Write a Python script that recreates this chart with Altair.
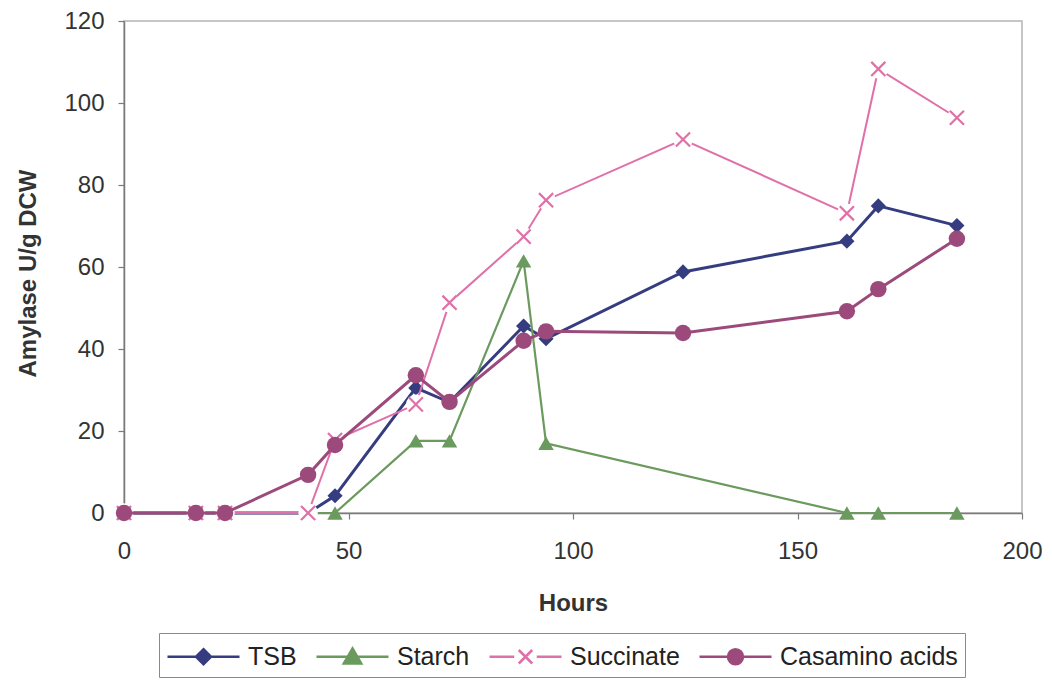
import altair as alt
import pandas as pd

# Sampling times (hours) and amylase activity (U/g DCW) for each medium
hours = [0, 16, 22.5, 41, 47, 65, 72.5, 89, 94, 124.5, 161, 168, 185.5]
tsb = [0, 0, 0, 0, 4.2, 30.5, 27.0, 45.6, 42.5, 58.8, 66.3, 74.9, 70.1]
# starch was not sampled at 124.5 h
starch = [0, 0, 0, 0, 0, 17.6, 17.6, 61.5, 17.0, None, 0, 0, 0]
succinate = [0, 0, 0, 0, 17.8, 26.5, 51.3, 67.4, 76.3, 91.1, 73.1, 108.3, 96.4]
casamino = [0, 0, 0, 9.3, 16.6, 33.6, 27.1, 42.0, 44.3, 43.9, 49.2, 54.6, 66.9]

names = ["TSB", "Starch", "Succinate", "Casamino acids"]
colors = ["#353d80", "#6b9a5e", "#e070a8", "#9c4a7c"]

x_ticks = [0, 50, 100, 150, 200]
y_ticks = [0, 20, 40, 60, 80, 100, 120]

rows = []
for name, vals in zip(names, [tsb, starch, succinate, casamino]):
    for h, v in zip(hours, vals):
        if v is not None:
            rows.append({"hours": h, "value": v, "series": name})
df = pd.DataFrame(rows)

FONT = "Liberation Sans"

x_enc = alt.X(
    "hours:Q",
    scale=alt.Scale(domain=[0, 200], nice=False),
    axis=alt.Axis(values=x_ticks, title="Hours", format="d", labelFlush=False,
                  titleY=90, titleBaseline="middle"),
)
y_enc = alt.Y(
    "value:Q",
    scale=alt.Scale(domain=[0, 120], nice=False),
    axis=alt.Axis(values=y_ticks, title="Amylase U/g DCW", format="d", labelFlush=False,
                  titleX=-96, titleY=252, titleBaseline="middle"),
)

base = alt.Chart(df).encode(x=x_enc, y=y_enc)

# marker path: "x" for succinate
X_PATH = "M-1,-1L1,1M1,-1L-1,1"

# legend symbols: a line segment with the series marker in the middle
legend_paths = [
    "M-2.4,0H2.4M0,-0.5L0.5,0L0,0.5L-0.5,0Z",
    "M-2.4,0H2.4M0,-0.55L0.58,0.45L-0.58,0.45Z",
    "M-2.4,0H-0.75M0.75,0H2.4M-0.45,-0.45L0.45,0.45M0.45,-0.45L-0.45,0.45",
    "M-2.4,0H2.4M-0.5,0A0.5,0.5 0 1,0 0.5,0A0.5,0.5 0 1,0 -0.5,0Z",
]

layers = []
line_widths = [3, 2.2, 2, 3]
for i, name in enumerate(names):
    sel = base.transform_filter(alt.datum.series == name)
    layers.append(sel.mark_line(color=colors[i], strokeWidth=line_widths[i]))
    if name == "TSB":
        layers.append(sel.mark_point(shape="diamond", filled=True, size=230,
                                     color=colors[i], opacity=1))
    elif name == "Starch":
        layers.append(sel.mark_point(shape="triangle-up", filled=True, size=240,
                                     color=colors[i], opacity=1))
    elif name == "Succinate":
        layers.append(sel.mark_point(shape="circle", filled=True, size=380,
                                     color="white", opacity=1))
        layers.append(sel.mark_point(shape=X_PATH, filled=False, size=200,
                                     color=colors[i], strokeWidth=2.2, opacity=1))
    else:
        layers.append(sel.mark_point(shape="circle", filled=True, size=270,
                                     color=colors[i], opacity=1))

legend = alt.Legend(
    title=None, orient="none", legendX=35, legendY=612,
    direction="horizontal", symbolSize=900, symbolStrokeWidth=2.5,
    symbolOffset=21, labelOffset=28, columnPadding=14, padding=7,
    labelLimit=400, strokeColor="#8a8a8a", labelFont=FONT, labelFontSize=25,
    labelColor="#222222", symbolOpacity=1,
)
legend_layer = base.transform_filter("false").mark_point(
    filled=True, size=900, opacity=1, strokeWidth=2.5
).encode(
    fill=alt.Fill("series:N", scale=alt.Scale(domain=names, range=colors), legend=legend),
    stroke=alt.Stroke("series:N", scale=alt.Scale(domain=names, range=colors), legend=legend),
    shape=alt.Shape("series:N", scale=alt.Scale(domain=names, range=legend_paths), legend=legend),
)
layers.append(legend_layer)

chart = alt.layer(*layers).properties(
    width=898, height=492,
    autosize=alt.AutoSizeParams(type="none"),
    padding={"left": 124, "top": 21, "right": 30, "bottom": 174},
    background="white",
).configure_view(
    stroke="#b4b4b4", strokeWidth=1.5,
).configure_axis(
    grid=False, domainColor="#7a7a7a", domainWidth=1.5,
    tickColor="#7a7a7a", tickSize=6, tickWidth=1.2,
    labelFont=FONT, labelFontSize=24, labelColor="#333333",
    titleFont=FONT, titleFontSize=24, titleFontWeight="bold", titleColor="#333333",
).configure_axisX(
    labelPadding=20,
).configure_axisY(
    labelPadding=14,
)

chart.save("out.html", embed_options={"renderer": "svg", "actions": False})
